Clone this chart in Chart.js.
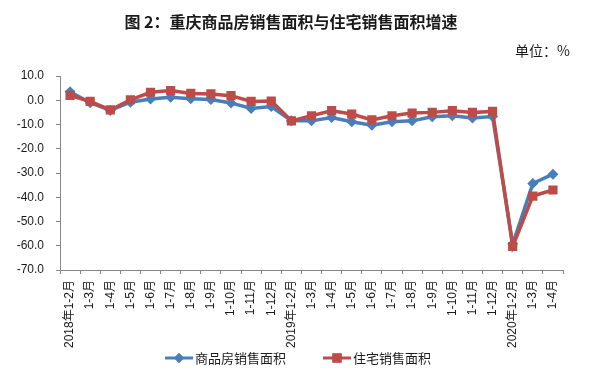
<!DOCTYPE html>
<html>
<head>
<meta charset="utf-8">
<script src="https://cdn.jsdelivr.net/npm/chart.js@4"></script>
<style>
  body { margin: 0; background: #fff; }
  #wrap { width: 598px; height: 372px; }
</style>
</head>
<body>
<div id="wrap"><canvas id="chart" width="598" height="372"></canvas></div>
<script>
// data
const months = ['2018年1-2月', '1-3月', '1-4月', '1-5月', '1-6月', '1-7月', '1-8月', '1-9月', '1-10月', '1-11月', '1-12月',
  '2019年1-2月', '1-3月', '1-4月', '1-5月', '1-6月', '1-7月', '1-8月', '1-9月', '1-10月', '1-11月', '1-12月',
  '2020年1-2月', '1-3月', '1-4月'];
const commercialArea = [3.5, -1.0, -4.2, -0.8, 0.5, 1.2, 0.6, 0.3, -1.1, -3.4, -2.6,
  -8.5, -8.5, -7.1, -8.9, -10.3, -8.9, -8.5, -6.8, -6.4, -7.3, -6.7,
  -59.3, -34.3, -30.5];
const residentialArea = [2.0, -0.5, -4.0, 0.2, 3.3, 4.0, 2.8, 2.6, 1.9, -0.5, -0.3,
  -8.5, -6.4, -4.3, -5.7, -8.1, -6.4, -5.3, -5.0, -4.3, -5.0, -4.6,
  -60.3, -39.5, -37.0];
const seriesNames = ['商品房销售面积', '住宅销售面积'];
const yMin = -70, yMax = 10, yStep = 10;

const titleText = '图 2：重庆商品房销售面积与住宅销售面积增速';
const unitText = '单位：%';

const blue = '#4A7EBB';
const red = '#BE4B48';
const axisGray = '#868686';

// title, unit and legend drawn on the canvas
const decorations = {
  id: 'decorations',
  afterDraw(chart) {
    const ctx = chart.ctx;
    ctx.save();
    ctx.fillStyle = '#1a1a1a';
    ctx.textBaseline = 'middle';
    ctx.textAlign = 'center';
    ctx.font = 'bold 16px "Noto Sans CJK SC"';
    ctx.fillText(titleText, 291, 22);
    ctx.textAlign = 'right';
    ctx.font = '14px "Noto Sans CJK SC"';
    ctx.fillText(unitText, 570, 51);

    // legend
    const items = [
      { x: 165, color: blue, style: 'rectRot', r: 5, name: seriesNames[0] },
      { x: 323, color: red, style: 'rect', r: 6.5, name: seriesNames[1] }
    ];
    const ly = 358;
    items.forEach(it => {
      ctx.strokeStyle = it.color;
      ctx.lineWidth = 3;
      ctx.beginPath();
      ctx.moveTo(it.x, ly);
      ctx.lineTo(it.x + 28, ly);
      ctx.stroke();
      ctx.fillStyle = it.color;
      Chart.helpers.drawPoint(ctx, { pointStyle: it.style, radius: it.r, borderWidth: 0 }, it.x + 14, ly);
      ctx.fill();
      ctx.fillStyle = '#1a1a1a';
      ctx.textAlign = 'left';
      ctx.font = '13px "Noto Sans CJK SC"';
      ctx.fillText(it.name, it.x + 30, ly);
    });
    ctx.restore();
  }
};

new Chart(document.getElementById('chart'), {
  type: 'line',
  data: {
    labels: months,
    datasets: [
      {
        label: seriesNames[0],
        data: commercialArea,
        borderColor: blue,
        backgroundColor: blue,
        borderWidth: 3.5,
        pointStyle: 'rectRot',
        pointRadius: 5.5,
        pointBorderWidth: 0,
        tension: 0,
        order: 1
      },
      {
        label: seriesNames[1],
        data: residentialArea,
        borderColor: red,
        backgroundColor: red,
        borderWidth: 3.5,
        pointStyle: 'rect',
        pointRadius: 6.5,
        pointBorderWidth: 0,
        tension: 0,
        order: 0
      }
    ]
  },
  options: {
    responsive: false,
    animation: false,
    layout: { padding: { top: 76, right: 35, bottom: 0, left: 0 } },
    plugins: {
      legend: { display: false },
      title: { display: false },
      tooltip: { enabled: false }
    },
    scales: {
      x: {
        offset: true,
        grid: { offset: true, drawOnChartArea: false, tickLength: 4, color: axisGray },
        border: { color: axisGray, width: 1 },
        ticks: {
          autoSkip: false,
          minRotation: 90,
          maxRotation: 90,
          padding: 6,
          color: '#1a1a1a',
          font: { family: '"Liberation Sans", "Noto Sans CJK SC"', size: 12 }
        },
        afterFit(scale) { scale.height = 102; }
      },
      y: {
        min: yMin,
        max: yMax,
        grid: { drawOnChartArea: false, tickLength: 4, color: axisGray },
        border: { color: axisGray, width: 1 },
        ticks: {
          stepSize: yStep,
          padding: 12,
          color: '#1a1a1a',
          font: { family: '"Liberation Sans"', size: 12 },
          callback: v => v.toFixed(1)
        },
        afterFit(scale) { scale.width = 60; }
      }
    }
  },
  plugins: [decorations]
});
</script>
</body>
</html>
